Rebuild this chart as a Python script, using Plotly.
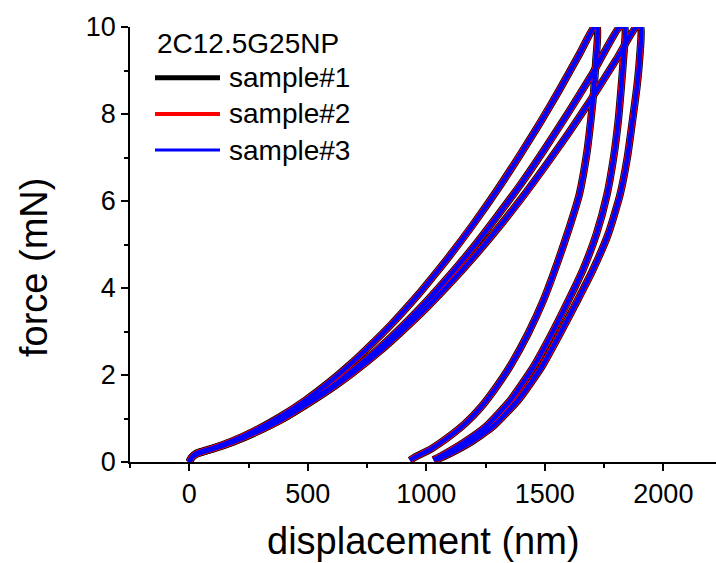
import plotly.graph_objects as go

# curvas força x deslocamento (carga, patamar e descarga)
ind1_x = [0, 10, 30, 100, 180, 280, 383, 490, 594, 680, 741, 850, 966, 1037, 1100, 1200,
          1300, 1400, 1480, 1560, 1648, 1708, 1722, 1715, 1706, 1694, 1677, 1645, 1604,
          1557, 1494, 1430, 1352, 1296, 1232, 1165, 1095, 1020, 948, 931]
ind1_y = [0, 0.1, 0.2, 0.32, 0.48, 0.73, 1.04, 1.42, 1.85, 2.25, 2.56, 3.15, 3.85, 4.32, 4.75, 5.48,
          6.26, 7.1, 7.8, 8.54, 9.4, 10.0, 10.0, 9.2, 8.5, 7.86, 7.1, 6.14, 5.4,
          4.64, 3.72, 2.96, 2.19, 1.73, 1.27, 0.89, 0.58, 0.3, 0.1, 0.04]

ind2_x = [0, 10, 30, 100, 180, 280, 383, 500, 615, 700, 791, 900, 1000, 1100, 1200, 1300,
          1400, 1500, 1600, 1700, 1815, 1838, 1832, 1822, 1810, 1790, 1762, 1718, 1660,
          1600, 1530, 1452, 1356, 1250, 1152, 1062, 1030]
ind2_y = [0, 0.1, 0.19, 0.3, 0.45, 0.68, 0.96, 1.35, 1.78, 2.15, 2.57, 3.13, 3.69, 4.3, 4.95, 5.66,
          6.4, 7.2, 8.04, 8.92, 10.0, 10.0, 9.3, 8.6, 7.86, 7.0, 6.14, 5.25, 4.41,
          3.72, 2.96, 2.19, 1.43, 0.81, 0.43, 0.14, 0.05]

ind3_x = [0, 10, 30, 100, 180, 280, 383, 500, 615, 700, 800, 900, 1000, 1121, 1200, 1300,
          1400, 1500, 1600, 1700, 1800, 1885, 1905, 1900, 1888, 1870, 1848, 1817, 1768,
          1702, 1638, 1565, 1487, 1389, 1280, 1180, 1080, 1042]
ind3_y = [0, 0.1, 0.18, 0.31, 0.46, 0.69, 0.96, 1.34, 1.75, 2.09, 2.53, 3.02, 3.54, 4.23, 4.71, 5.36,
          6.05, 6.79, 7.56, 8.38, 9.24, 10.0, 10.0, 9.3, 8.6, 7.86, 7.0, 6.14, 5.25,
          4.41, 3.72, 2.96, 2.19, 1.43, 0.81, 0.43, 0.14, 0.05]

samples = ['sample#1', 'sample#2', 'sample#3']
legend_title = '2C12.5G25NP'

cores = ['#000000', '#ff0000', '#0000ff']
larguras = [7.5, 6, 4.5]

x_all = ind1_x + [None] + ind2_x + [None] + ind3_x
y_all = ind1_y + [None] + ind2_y + [None] + ind3_y

fig = go.Figure()
for nome, cor, lw in zip(samples, cores, larguras):
    fig.add_trace(go.Scatter(x=x_all, y=y_all, mode='lines', name=nome,
                             line=dict(color=cor, width=lw, shape='spline', smoothing=0.5),
                             showlegend=False))

# legenda feita a mao (linhas longas como no Origin)
L, W, T, H = 130, 586, 27, 435
def px(x): return (x - L) / W
def py(y): return (T + H - y) / H

fnt = dict(family='Liberation Sans, Arial', size=28, color='black')
fig.add_annotation(x=px(155), y=py(43), xref='paper', yref='paper', text=legend_title,
                   showarrow=False, xanchor='left', yanchor='middle', font=fnt)
leg_w = [5, 4, 3]
for i, (nome, cor) in enumerate(zip(samples, cores)):
    yy = py(77.7 + i * 36.2)
    fig.add_shape(type='line', xref='paper', yref='paper', x0=px(155), x1=px(220),
                  y0=yy, y1=yy, line=dict(color=cor, width=leg_w[i]))
    fig.add_annotation(x=px(227), y=yy, xref='paper', yref='paper', text=nome,
                       showarrow=False, xanchor='left', yanchor='middle', font=fnt)

# titulos dos eixos
tfont = dict(family='Liberation Sans, Arial', size=38, color='black')
fig.add_annotation(x=px(423), y=py(541), xref='paper', yref='paper', text='displacement (nm)',
                   showarrow=False, xanchor='center', yanchor='middle', font=tfont)
fig.add_annotation(x=px(34), y=py(268), xref='paper', yref='paper', text='force (mN)',
                   showarrow=False, xanchor='center', yanchor='middle', font=tfont, textangle=-90)

eixo = dict(showgrid=False, zeroline=False, showline=True, linecolor='black', linewidth=1.8,
            ticks='outside', ticklen=7, tickwidth=1.8, tickcolor='black',
            tickfont=dict(family='Liberation Sans, Arial', size=27, color='black'))

fig.update_layout(
    width=716, height=563,
    margin=dict(l=130, r=0, t=27, b=101),
    plot_bgcolor='white', paper_bgcolor='white',
    xaxis=dict(range=[-250, 2222], tickvals=[0, 500, 1000, 1500, 2000],
               minor=dict(dtick=250, tick0=0, ticks='outside', ticklen=4, tickwidth=1.8, tickcolor='black'),
               **eixo),
    yaxis=dict(range=[0, 10], tickvals=[0, 2, 4, 6, 8, 10],
               minor=dict(dtick=1, tick0=0, ticks='outside', ticklen=4, tickwidth=1.8, tickcolor='black'),
               **eixo),
)

# tira a margem do body para a figura ficar no canto
fig.write_html('out.html', config={'displayModeBar': False},
               post_script="document.body.style.margin='0';")
